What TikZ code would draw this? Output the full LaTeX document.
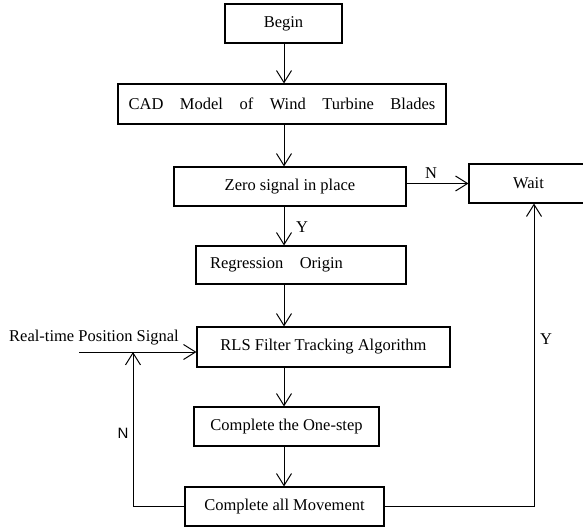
\documentclass[tikz,border=0pt]{standalone}
\usepackage{fontspec}
\setmainfont{Liberation Serif}
\newfontfamily\labelsans{Liberation Sans}
\usetikzlibrary{arrows.meta}

\tikzset{
  stepbox/.style={draw=black, line width=1.1pt, inner sep=0pt, font=\fontsize{16.5}{19}\selectfont},
  flow/.style={-{Straight Barb[length=12pt,width=15pt,line width=1pt]}, line width=0.9pt},
  tag/.style={inner sep=0pt, font=\fontsize{16.5}{19}\selectfont}
}

\begin{document}
\begin{tikzpicture}[x=1pt, y=-1pt]

\useasboundingbox (0,0) rectangle (583,527);

% Main column
\node[stepbox, minimum width=117pt, minimum height=39pt] (begin) at (283.5,23.5) {Begin};
\node[stepbox, minimum width=328pt, minimum height=40pt] (cad) at (282,104) {CAD\quad Model\quad of\quad Wind\quad Turbine\quad Blades};
\node[stepbox, minimum width=232pt, minimum height=39pt] (zero) at (290,186.5) {Zero signal in place};
\node[stepbox, minimum height=38pt, text width=182pt, align=left, inner xsep=14pt] (regr) at (301,265) {Regression\quad Origin};
\node[stepbox, minimum width=253pt, minimum height=40pt] (rls) at (323.5,347) {RLS Filter Tracking Algorithm};
\node[stepbox, minimum width=185pt, minimum height=39pt] (onestep) at (286.5,426.5) {Complete the One-step};
\node[stepbox, minimum width=199pt, minimum height=39pt] (move) at (284.5,506.5) {Complete all Movement};

% Wait (cut by the right edge)
\node[stepbox, minimum width=119pt, minimum height=39pt] (wait) at (528.5,183.5) {Wait};

% Helper points
\coordinate (spine) at (284,0);
\coordinate (sigstart) at (79,352);
\coordinate (join) at (133,352);

% Down the column
\draw[flow] (begin.south -| spine) -- (cad.north -| spine);
\draw[flow] (cad.south -| spine) -- (zero.north -| spine);
\draw[flow] (zero.south -| spine) -- (regr.north -| spine);
\draw[flow] (regr.south -| spine) -- (rls.north -| spine);
\draw[flow] (rls.south -| spine) -- (onestep.north -| spine);
\draw[flow] (onestep.south -| spine) -- (move.north -| spine);

% Branches
\draw[flow] (zero.east |- wait.west) -- (wait.west);
\draw[flow] (move.east) -| ([xshift=5.5pt]wait.south);
\draw[flow] (move.west) -| (join);
\draw[flow] (sigstart) -- (rls.west |- sigstart);

% Labels
\node[tag] (nwait) at (431,173) {N};
\node[tag] (yregr) at (302,227) {Y};
\node[tag] (ydone) at (546,339) {Y};
\node[tag, font=\labelsans\fontsize{15}{18}\selectfont] (nback) at (123,433) {N};
\node[tag] (signal) at (94,338) {Real-time Position Signal};

\end{tikzpicture}
\end{document}
